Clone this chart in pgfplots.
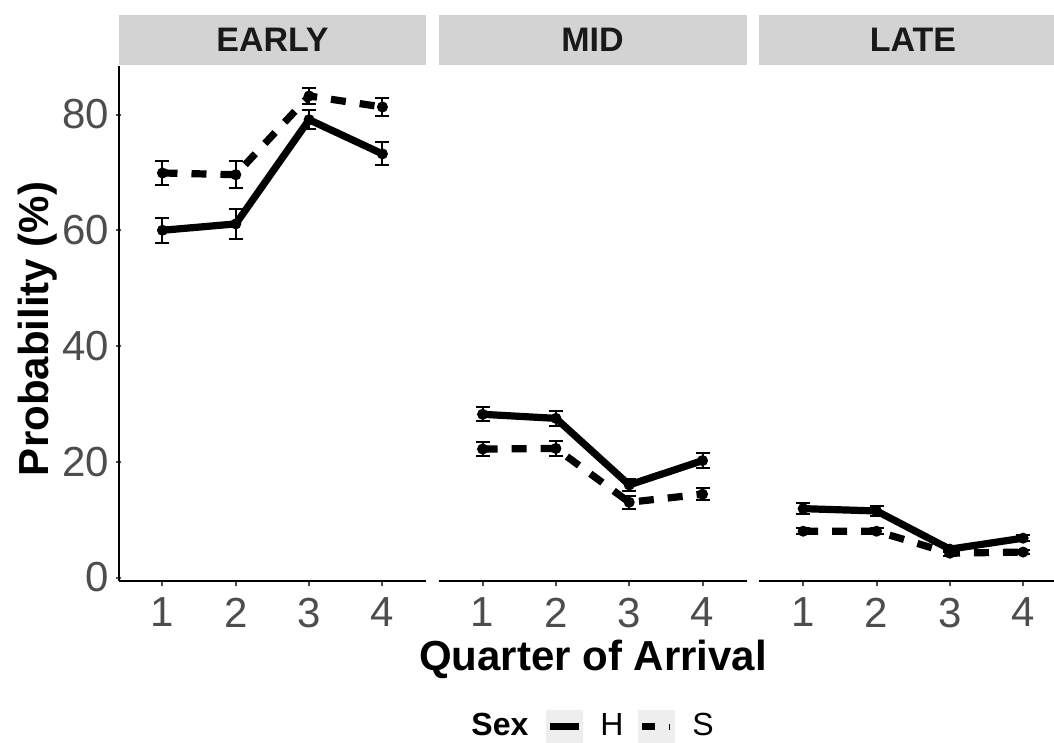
\documentclass[border=0pt]{standalone}
\usepackage{fontspec}
\setmainfont{Liberation Sans}
\usepackage{pgfplots}
\usepackage{pgfplotstable}
\pgfplotsset{compat=1.18}
\definecolor{stripgray}{RGB}{211,211,211}
\definecolor{tickgray}{RGB}{77,77,77}
\definecolor{keygray}{RGB}{238,238,238}

\pgfplotstableread{
x h he s se
1 60.0 2.2 69.9 2.0
2 61.1 2.6 69.6 2.3
3 79.1 1.6 83.2 1.4
4 73.2 2.0 81.3 1.5
}\early
\pgfplotstableread{
x h he s se
1 28.2 1.2 22.2 1.2
2 27.5 1.3 22.3 1.3
3 16.0 1.0 13.0 1.1
4 20.2 1.3 14.4 1.0
}\mid
\pgfplotstableread{
x h he s se
1 11.9 0.9 8.0 0.5
2 11.5 0.8 8.0 0.5
3 4.9 0.5 4.2 0.4
4 6.8 0.5 4.4 0.4
}\late

\pgfplotsset{
  panel/.style={
    scale only axis, height=257.1pt,
    ymin=-0.55, ymax=88.3, xmin=0.4,
    axis x line=bottom,
    xtick={1,2,3,4},
    tick align=outside, major tick length=2.5pt,
    tick style={line width=1pt, color=tickgray},
    ticklabel style={font=\fontsize{21}{25}\selectfont, text=tickgray},
    xticklabel style={yshift=-2.5pt},
    /pgf/number format/assume math mode=true,
    clip=false,
    anchor=south west,
  },
  noarrow/.style={axis line style={-, line width=1pt, black},
    every outer x axis line/.append style={-},
    every outer y axis line/.append style={-}},
  hline/.style={black, line width=3.6pt, line join=round, mark=*, mark size=2.5pt,
    mark options={solid, line width=0.5pt},
    error bars/.cd, y dir=both, y explicit,
    error bar style={line width=1pt, solid},
    error mark options={line width=1pt, mark size=3.5pt, solid, rotate=90}},
  sline/.style={black, line width=3.6pt, line join=round, dash pattern=on 7.5pt off 7pt,
    mark=*, mark size=2.5pt, mark options={solid, line width=0.5pt},
    error bars/.cd, y dir=both, y explicit,
    error bar style={line width=1pt, solid},
    error mark options={line width=1pt, mark size=3.5pt, solid, rotate=90}},
}

\begin{document}
\begin{tikzpicture}
% panel 1
\begin{axis}[panel, at={(59.25pt,81.15pt)}, width=153.95pt, xmax=4.6,
  axis y line=left, ytick={0,20,40,60,80}, noarrow]
\addplot[hline] table[x=x, y=h, y error=he]{\early};
\addplot[sline] table[x=x, y=s, y error=se]{\early};
\end{axis}
% panel 2
\begin{axis}[panel, at={(219.3pt,81.15pt)}, width=153.95pt, xmax=4.6,
  axis y line=none, noarrow]
\addplot[hline] table[x=x, y=h, y error=he]{\mid};
\addplot[sline] table[x=x, y=s, y error=se]{\mid};
\end{axis}
% panel 3
\begin{axis}[panel, at={(379.6pt,81.15pt)}, width=147.35pt, xmax=4.42,
  axis y line=none, noarrow]
\addplot[hline] table[x=x, y=h, y error=he]{\late};
\addplot[sline] table[x=x, y=s, y error=se]{\late};
\end{axis}

\begin{scope}[x=0.5pt, y=0.5pt]
% strips
\fill[stripgray] (118.5,678) rectangle (426.4,728);
\fill[stripgray] (438.6,678) rectangle (746.5,728);
\fill[stripgray] (759.2,678) rectangle (1054,728);
\node[font=\bfseries\fontsize{17}{18}\selectfont, text=black!90] at (272.5,703) {EARLY};
\node[font=\bfseries\fontsize{17}{18}\selectfont, text=black!90] at (592.5,703) {MID};
\node[font=\bfseries\fontsize{17}{18}\selectfont, text=black!90] at (913,703) {LATE};
% axis titles
\node[rotate=90, anchor=base, font=\bfseries\fontsize{21}{25}\selectfont] at (48,414) {Probability (\%)};
\node[anchor=base, font=\bfseries\fontsize{21}{25}\selectfont] at (593,72) {Quarter of Arrival};
% legend
\node[anchor=base west, inner sep=0pt, font=\bfseries\fontsize{16}{18}\selectfont] at (471,7) {Sex};
\fill[keygray] (546,0) rectangle (583,33);
\fill[keygray] (638,0) rectangle (675,33);
\draw[line width=3.5pt] (550,16) -- (579,16);
\draw[line width=3.5pt] (642,16) -- (655,16);
\draw[line width=3pt] (668.5,16) -- (670,16);
\node[anchor=base west, inner sep=0pt, font=\fontsize{16}{18}\selectfont] at (600,7) {H};
\node[anchor=base west, inner sep=0pt, font=\fontsize{16}{18}\selectfont] at (692,7) {S};
\pgfresetboundingbox
\path[use as bounding box] (0,0) rectangle (1054,743);
\end{scope}
\end{tikzpicture}
\end{document}
